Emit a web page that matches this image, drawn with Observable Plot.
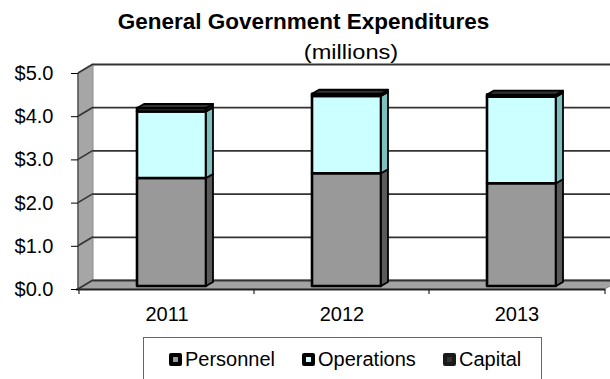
<!DOCTYPE html>
<html>
<head>
<meta charset="utf-8">
<script src="https://cdn.jsdelivr.net/npm/d3@7"></script>
<script src="https://cdn.jsdelivr.net/npm/@observablehq/plot@0.6"></script>
<style>
  body { margin: 0; background: #fff; font-family: "Liberation Sans", Arial, sans-serif; }
  #wrap { position: relative; width: 610px; height: 379px; overflow: hidden; background: #fff; }
  #chart { position: absolute; left: 0; top: 0; }
  .title { position: absolute; left: 0; width: 607px; top: 11px; text-align: center; font-weight: bold; font-size: 22.5px; line-height: 22.5px; color: #000; }
  .subtitle { position: absolute; left: 351px; top: 42px; font-size: 20px; line-height: 20px; white-space: nowrap; transform: translateX(-50%) scaleX(1.18); color: #000; }
  .legend { position: absolute; left: 143px; top: 337px; width: 397px; height: 70px; border: 1px solid #666; background: #fff; }
  .item { position: absolute; top: 11px; font-size: 20px; line-height: 20px; display: flex; align-items: center; white-space: nowrap; color: #000; }
  .sw { width: 13px; height: 13px; box-sizing: border-box; border: 4px solid #000; border-radius: 2px; margin-right: 3px; }
</style>
</head>
<body>
<div id="wrap">
  <div id="chart"></div>
  <div class="title">General Government Expenditures</div>
  <div class="subtitle">(millions)</div>
  <div class="legend" id="legend"></div>
</div>
<script>
// ---- data ----
const years = ["2011", "2012", "2013"];
const seriesNames = ["Personnel", "Operations", "Capital"];
const personnel = [2.50, 2.61, 2.38];
const operations = [1.54, 1.79, 2.00];
const capital = [0.08, 0.05, 0.05];
const yTicks = [0, 1, 2, 3, 4, 5];

// ---- styles ----
const colors = ["#999999", "#ccffff", "#333333"];
const sideColors = ["#5a5a5a", "#7fbfbf", "#1a1a1a"];
const WDX = 15, WDY = -9;   // wall depth
const BDX = 7, BDY = -4;    // bar depth

const seriesValues = [personnel, operations, capital];
const data = years.flatMap((yr, i) =>
  seriesNames.map((s, j) => ({year: yr, series: s, value: seriesValues[j][i]})));

function decor(index, scales, values, dims) {
  const y = scales.y;
  const x0 = dims.marginLeft, x1 = dims.width - dims.marginRight;
  const y0 = y(0), y5 = y(5);
  const g = d3.create("svg:g");
  // floor
  g.append("path")
    .attr("d", `M${x0},${y0}L${x1},${y0}l${WDX},${WDY}L${x0 + WDX},${y0 + WDY}Z`)
    .attr("fill", "#a3a3a3").attr("stroke", "#8c8c8c");
  // left wall
  g.append("path")
    .attr("d", `M${x0},${y0}L${x0},${y5}l${WDX},${WDY}L${x0 + WDX},${y0 + WDY}Z`)
    .attr("fill", "#a6a6a6").attr("stroke", "#8c8c8c");
  // diagonals on the wall
  for (const v of yTicks) {
    g.append("line")
      .attr("x1", x0).attr("y1", y(v)).attr("x2", x0 + WDX).attr("y2", y(v) + WDY)
      .attr("stroke", "#333").attr("stroke-width", 1.6);
  }
  // left axis line
  g.append("line").attr("x1", x0).attr("x2", x0).attr("y1", y0).attr("y2", y5)
    .attr("stroke", "#444").attr("stroke-width", 1.2);
  // front floor edge
  g.append("line").attr("x1", x0 - 2).attr("x2", x1).attr("y1", y0 + 0.5).attr("y2", y0 + 0.5)
    .attr("stroke", "#222").attr("stroke-width", 2);
  // band boundary ticks
  const bounds = years.map(yr => scales.x(yr)).concat([x1]);
  for (const b of bounds) {
    g.append("line").attr("x1", b).attr("x2", b).attr("y1", y0).attr("y2", y0 + 5)
      .attr("stroke", "#222").attr("stroke-width", 1.2);
  }
  return g.node();
}

function bar3d(index, scales, values, dims, ctx, next) {
  const g = next(index, scales, values, dims, ctx);
  const ns = "http://www.w3.org/2000/svg";
  const rects = Array.from(g.querySelectorAll("rect"));
  const tops = new Map();
  const hexes = colors.map(c => d3.color(c).formatHex());
  const faces = [];
  rects.forEach(r => {
    const x = +r.getAttribute("x"), y = +r.getAttribute("y");
    const w = +r.getAttribute("width"), h = +r.getAttribute("height");
    const f = d3.color(r.getAttribute("fill"));
    const si = f ? hexes.indexOf(f.formatHex()) : -1;
    const p = document.createElementNS(ns, "path");
    p.setAttribute("d", `M${x + w},${y + h}L${x + w},${y}l${BDX},${BDY}l0,${h}Z`);
    p.setAttribute("fill", si >= 0 ? sideColors[si] : "#555");
    p.setAttribute("stroke", "#000");
    p.setAttribute("stroke-width", 1.8);
    p.setAttribute("stroke-linejoin", "round");
    faces.push(p);
    if (!tops.has(x) || y < tops.get(x).y) tops.set(x, {x, y, w, si});
  });
  for (const p of faces) g.appendChild(p);
  for (const {x, y, w, si} of tops.values()) {
    const p = document.createElementNS(ns, "path");
    p.setAttribute("d", `M${x},${y}l${BDX},${BDY}l${w},0l${-BDX},${-BDY}Z`);
    p.setAttribute("fill", si >= 0 ? colors[si] : "#333");
    p.setAttribute("stroke", "#000");
    p.setAttribute("stroke-width", 1.8);
    p.setAttribute("stroke-linejoin", "round");
    g.appendChild(p);
  }
  return g;
}

const chart = Plot.plot({
  width: 610,
  height: 379,
  marginLeft: 78,
  marginRight: 5,
  marginTop: 73,
  marginBottom: 90,
  style: {fontFamily: "'Liberation Sans', Arial, sans-serif", color: "#000", background: "transparent", overflow: "visible"},
  x: {domain: years, padding: 0},
  y: {domain: [0, 5]},
  color: {domain: seriesNames, range: colors},
  marks: [
    decor,
    Plot.ruleY(yTicks, {dx: WDX, dy: WDY, stroke: "#333", strokeWidth: 1.8}),
    Plot.barY(data, {
      x: "year", y: "value", fill: "series",
      stroke: "#000", strokeWidth: 2.6, strokeLinejoin: "round",
      insetLeft: 53, insetRight: 53, dx: 5, dy: -3,
      render: bar3d
    }),
    Plot.axisY({ticks: yTicks, tickSize: 7, tickPadding: 18, fontSize: 20,
      tickFormat: d => "$" + d.toFixed(1), label: null}),
    Plot.axisX({tickSize: 0, tickPadding: 17, fontSize: 20, label: null})
  ]
});
document.getElementById("chart").appendChild(chart);

// legend
const legend = document.getElementById("legend");
const legendLeft = [25, 158, 299];
seriesNames.forEach((s, j) => {
  const item = document.createElement("div");
  item.className = "item";
  item.style.left = legendLeft[j] + "px";
  const sw = document.createElement("span");
  sw.className = "sw";
  sw.style.background = colors[j];
  if (j === 2) sw.style.borderColor = "#1a1a1a";
  item.appendChild(sw);
  item.appendChild(document.createTextNode(s));
  legend.appendChild(item);
});
</script>
</body>
</html>
